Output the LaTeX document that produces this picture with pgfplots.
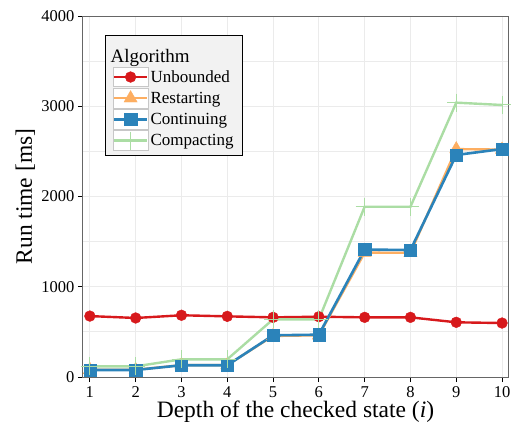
\documentclass[border=0pt]{standalone}
\usepackage{fontspec}
\setmainfont{Liberation Serif}
\usepackage{pgfplots}
\pgfplotsset{compat=1.18}
\definecolor{cRed}{HTML}{D7191C}
\definecolor{cOrange}{HTML}{FDAE61}
\definecolor{cBlue}{HTML}{2B83BA}
\definecolor{cGreen}{HTML}{ABDDA4}
\definecolor{gridc}{HTML}{EBEBEB}
\definecolor{legbg}{HTML}{F2F2F2}
\begin{document}
\begin{tikzpicture}
\begin{axis}[
  scale only axis, width=425pt, height=361pt,
  xmin=0.85, xmax=10.13, ymin=0, ymax=4000,
  xtick={1,2,3,4,5,6,7,8,9,10},
  ytick={0,1000,2000,3000,4000},
  minor ytick={500,1500,2500,3500},
  minor tick length=0pt,
  grid=both,
  major grid style={gridc, line width=0.9pt},
  minor grid style={gridc, line width=0.9pt},
  axis line style={black!60, line width=1pt},
  tick pos=left,
  tick align=outside,
  major tick length=5pt,
  tick style={black, line width=0.9pt},
  /pgf/number format/assume math mode=true,
  /pgf/number format/1000 sep={},
  tick label style={font=\fontsize{16.5}{18}\selectfont},
  xticklabel style={inner sep=1pt, yshift=-3pt},
  xlabel={Depth of the checked state (\textit{i})},
  ylabel={Run time [ms]},
  every axis x label/.style={at={(axis description cs:0.5,-0.097)}, anchor=center, inner sep=1pt, font=\fontsize{23.5}{26}\selectfont},
  every axis y label/.style={at={(axis description cs:-0.136,0.5)}, anchor=center, rotate=90, font=\fontsize{23.5}{26}\selectfont},
  legend image code/.code={
    \draw[draw=black!22, line width=1pt, solid, fill=white] (0pt,-9.8pt) rectangle (35pt,9.8pt);
    \draw[mark repeat=2,mark phase=2,#1] plot coordinates {(1pt,0pt)(17.5pt,0pt)(34pt,0pt)};
  },
  legend style={
    at={(axis description cs:0.052,0.947)}, anchor=north west,
    draw=black, line width=1pt, fill=legbg,
    font=\fontsize{17}{19}\selectfont,
    row sep=0.6pt, column sep=0pt,
    inner xsep=7pt, inner ysep=5pt,
    nodes={inner sep=2pt, anchor=west},
  },
  legend cell align=left,
]
\addlegendimage{empty legend}
\addlegendentry{\hspace*{-40pt}\raisebox{0pt}[20pt][8pt]{\fontsize{19}{21}\selectfont Algorithm}}

\addplot[cRed, line width=2.4pt, mark=*, mark size=5.4pt, mark options={solid, line width=0.4pt}]
coordinates {(1,675)(2,654)(3,684)(4,672)(5,661)(6,668)(7,661)(8,661)(9,606)(10,598)};
\addlegendentry{Unbounded}

\addplot[cOrange, line width=2.4pt, mark=triangle*, mark size=7.6pt, mark options={solid, line width=0.4pt}]
coordinates {(1,80)(2,80)(3,132)(4,132)(5,455)(6,462)(7,1378)(8,1376)(9,2525)(10,2520)};
\addlegendentry{Restarting}

\addplot[cBlue, line width=2.6pt, mark=square*, mark size=6.1pt, mark options={solid, line width=0.4pt}]
coordinates {(1,78)(2,78)(3,130)(4,130)(5,462)(6,469)(7,1412)(8,1407)(9,2460)(10,2526)};
\addlegendentry{Continuing}

\addplot[cGreen, line width=2.4pt, mark=+, mark size=9pt, mark options={solid, line width=1pt}]
coordinates {(1,118)(2,118)(3,196)(4,196)(5,639)(6,639)(7,1887)(8,1887)(9,3040)(10,3014)};
\addlegendentry{Compacting}
\end{axis}
\pgfresetboundingbox
\path[use as bounding box] (-83pt,-52pt) rectangle (433pt,377pt);
\end{tikzpicture}
\end{document}
